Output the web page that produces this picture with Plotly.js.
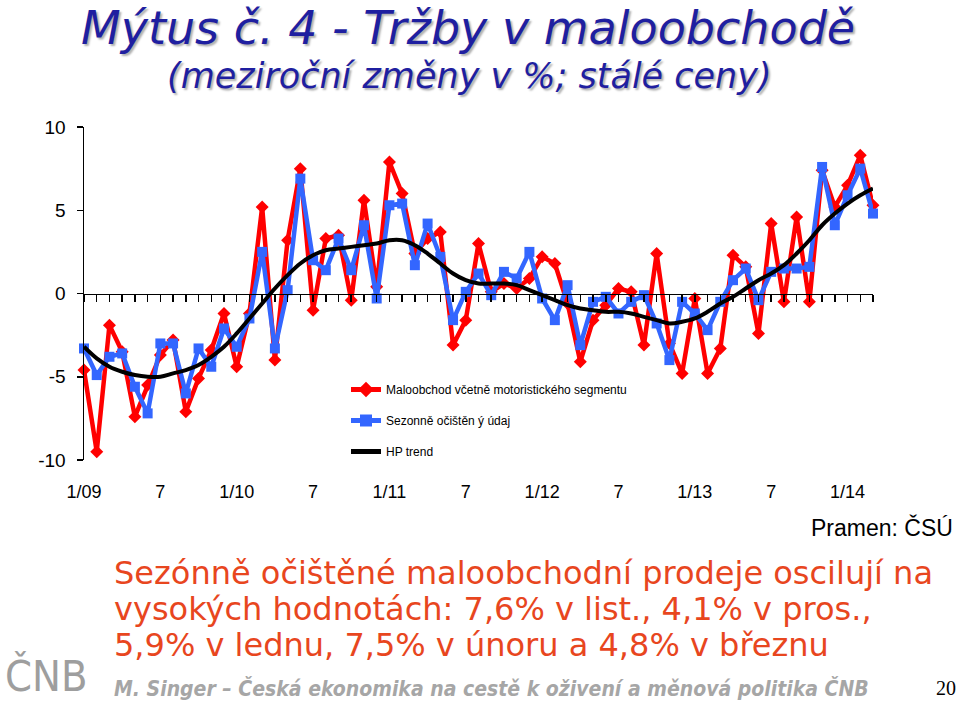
<!DOCTYPE html>
<html>
<head>
<meta charset="utf-8">
<script src="https://cdn.plot.ly/plotly-3.0.1.min.js"></script>
<style>
  body { margin: 0; background: #fff; }
  #graph { width: 960px; height: 701px; }
</style>
</head>
<body>
<div id="graph"></div>
<script>
// monthly y/y changes, 1/2009 - 3/2014
var retail = [-4.6, -9.5, -1.9, -3.5, -7.4, -5.5, -3.7, -2.8, -7.1, -5.1, -3.4, -1.2,
	-4.4, -1.2, 5.2, -4.0, 3.2, 7.5, -1.0, 3.3, 3.5, -0.4, 5.6, 0.4,
	7.9, 6.0, 2.4, 3.3, 3.7, -3.1, -1.6, 3.0, 0.1, 0.6, 0.3, 0.9,
	2.2, 1.8, -0.6, -4.1, -1.6, -0.7, 0.3, 0.1, -3.1, 2.4, -3.0, -4.8,
	-0.3, -4.8, -3.3, 2.3, 1.6, -2.4, 4.2, -0.5, 4.6, -0.5, 7.4, 5.2,
	6.5, 8.3, 5.3]
var seasAdj = [-3.3, -4.9, -3.8, -3.6, -5.6, -7.2, -3.0, -3.0, -6.0, -3.3, -4.4, -2.1,
	-3.2, -1.5, 2.5, -3.3, 0.2, 6.9, 2.0, 1.4, 3.3, 1.4, 4.1, -0.3,
	5.3, 5.4, 1.7, 4.2, 2.2, -1.6, 0.1, 1.2, -0.1, 1.3, 0.9, 2.5,
	-0.3, -1.6, 0.5, -3.1, -0.5, -0.2, -1.2, -0.5, -0.1, -1.8, -4.0, -0.5,
	-1.2, -2.2, -0.5, 0.8, 1.5, -0.4, 1.3, 1.5, 1.5, 1.6, 7.6, 4.1,
	5.9, 7.5, 4.8]
var hpTrend = [-3.2, -3.9, -4.4, -4.7, -4.9, -5.0, -5.0, -4.8, -4.6, -4.3, -3.8, -3.2,
	-2.4, -1.5, -0.6, 0.3, 1.1, 1.8, 2.3, 2.6, 2.7, 2.8, 2.9, 3.0,
	3.2, 3.2, 2.9, 2.4, 1.8, 1.2, 0.8, 0.6, 0.6, 0.6, 0.5, 0.2,
	-0.1, -0.4, -0.7, -0.9, -1.0, -1.1, -1.1, -1.2, -1.4, -1.6, -1.8, -1.7,
	-1.5, -1.1, -0.6, -0.2, 0.3, 0.8, 1.2, 1.7, 2.4, 3.2, 4.1, 4.8,
	5.4, 5.9, 6.3]
var tickLabels = ['1/09', '7', '1/10', '7', '1/11', '7', '1/12', '7', '1/13', '7', '1/14']
var yTicks = [-10, -5, 0, 5, 10]
var yTickLabels = ['-10', '-5', '0', '5', '10']

// category labels m/yy
var months = []
for (var i = 0; i < retail.length; i++) {
	var m = (i % 12) + 1
	var yy = 9 + Math.floor(i / 12)
	months.push(m + '/' + (yy < 10 ? '0' + yy : yy))
}
var tickVals = []
for (var i = 0; i < months.length; i += 6) {
	tickVals.push(months[i])
}

// pixel -> paper helpers (plot area 84..873 x 127..460)
function px(x) { return (x - 84) / 789 }
function py(y) { return (460 - y) / 333 }

var traces = [
	{
		x: months, y: retail, name: 'Maloobchod včetně motoristického segmentu',
		mode: 'lines+markers', legendgroup: 'a', cliponaxis: false,
		line: {color: '#ff0000', width: 4.5},
		marker: {symbol: 'diamond', size: 10, color: '#ff0000'}
	},
	{
		x: months, y: seasAdj, name: 'Sezonně očištěn ý údaj',
		mode: 'lines+markers', legendgroup: 'b', cliponaxis: false,
		line: {color: '#3366ff', width: 4.5},
		marker: {symbol: 'square', size: 10, color: '#3366ff'}
	},
	{
		x: months, y: hpTrend, name: 'HP trend', xaxis: 'x2',
		mode: 'lines', legendgroup: 'c', cliponaxis: false,
		line: {color: '#000000', width: 4, shape: 'spline'}
	}
]

var layout = {
	width: 960, height: 701,
	margin: {l: 84, r: 87, t: 127, b: 241},
	paper_bgcolor: '#ffffff', plot_bgcolor: '#ffffff',
	font: {family: 'Liberation Sans, Arial, sans-serif', color: '#000'},
	showlegend: true,
	legend: {
		x: px(346), y: py(375), xanchor: 'left', yanchor: 'top',
		font: {family: 'Liberation Sans, Arial, sans-serif', size: 12, color: '#000'},
		traceorder: 'grouped', tracegroupgap: 12, bgcolor: 'rgba(0,0,0,0)',
		itemsizing: 'constant'
	},
	xaxis: {
		type: 'category', range: [0, months.length - 1],
		tickvals: tickVals, ticktext: tickLabels,
		ticks: 'outside', ticklen: 15, tickcolor: 'rgba(0,0,0,0)',
		showline: false, showgrid: false, zeroline: false,
		tickfont: {size: 18, color: '#000'}
	},
	xaxis2: {
		type: 'category', range: [0, months.length - 1], overlaying: 'x',
		anchor: 'free', position: 0.5, side: 'bottom',
		tickvals: months, showticklabels: false,
		ticks: 'outside', ticklen: 7, tickwidth: 1.5, tickcolor: '#000',
		showline: true, linewidth: 1.5, linecolor: '#000',
		showgrid: false, zeroline: false
	},
	yaxis: {
		range: [-10, 10], tickvals: yTicks, ticktext: yTickLabels,
		ticks: 'outside', ticklen: 6, tickwidth: 1.5, tickcolor: '#000',
		ticklabelstandoff: 7,
		showline: true, linewidth: 1.5, linecolor: '#000',
		showgrid: false, zeroline: false,
		tickfont: {size: 19, color: '#000'}
	},
	annotations: [
		{
			text: 'Mýtus č. 4 - Tržby v maloobchodě', xref: 'paper', yref: 'paper',
			x: px(468), y: py(28), xanchor: 'center', yanchor: 'middle', showarrow: false,
			font: {family: 'DejaVu Sans, sans-serif', size: 46, color: '#1f1fa0',
				style: 'italic', shadow: '2px 2px 2px #b0b0b0'}
		},
		{
			text: '(meziroční změny v %; stálé ceny)', xref: 'paper', yref: 'paper',
			x: px(469), y: py(76), xanchor: 'center', yanchor: 'middle', showarrow: false,
			font: {family: 'DejaVu Sans, sans-serif', size: 35, color: '#1f1fa0',
				style: 'italic', shadow: '2px 2px 2px #b0b0b0'}
		},
		{
			text: 'Pramen: ČSÚ', xref: 'paper', yref: 'paper',
			x: px(955), y: py(527), xanchor: 'right', yanchor: 'middle', showarrow: false,
			font: {family: 'Liberation Sans, Arial, sans-serif', size: 23, color: '#000'}
		},
		{
			text: 'Sezónně očištěné maloobchodní prodeje oscilují na', xref: 'paper', yref: 'paper',
			x: px(112), y: py(573), xanchor: 'left', yanchor: 'middle', showarrow: false,
			font: {family: 'DejaVu Sans, sans-serif', size: 32, color: '#e8461e'}
		},
		{
			text: 'vysokých hodnotách: 7,6% v list., 4,1% v pros.,', xref: 'paper', yref: 'paper',
			x: px(112), y: py(609), xanchor: 'left', yanchor: 'middle', showarrow: false,
			font: {family: 'DejaVu Sans, sans-serif', size: 32, color: '#e8461e'}
		},
		{
			text: '5,9% v lednu, 7,5% v únoru a 4,8% v březnu', xref: 'paper', yref: 'paper',
			x: px(112), y: py(645), xanchor: 'left', yanchor: 'middle', showarrow: false,
			font: {family: 'DejaVu Sans, sans-serif', size: 32, color: '#e8461e'}
		},
		{
			text: 'M. Singer – Česká ekonomika na cestě k oživení a měnová politika ČNB', xref: 'paper', yref: 'paper',
			x: px(112), y: py(688), xanchor: 'left', yanchor: 'middle', showarrow: false,
			font: {family: 'DejaVu Sans Condensed, DejaVu Sans, sans-serif', size: 21, color: '#a6a6a6',
				style: 'italic', weight: 'bold'}
		},
		{
			text: '20', xref: 'paper', yref: 'paper',
			x: px(958), y: py(688), xanchor: 'right', yanchor: 'middle', showarrow: false,
			font: {family: 'Liberation Serif, serif', size: 20, color: '#000'}
		},
		{
			text: 'ČNB', xref: 'paper', yref: 'paper',
			x: px(3), y: py(676), xanchor: 'left', yanchor: 'middle', showarrow: false,
			font: {family: 'DejaVu Sans Condensed, DejaVu Sans, sans-serif', size: 43, color: '#9e9e9e'}
		}
	]
}

Plotly.newPlot('graph', traces, layout, {displayModeBar: false, staticPlot: true})
</script>
</body>
</html>
